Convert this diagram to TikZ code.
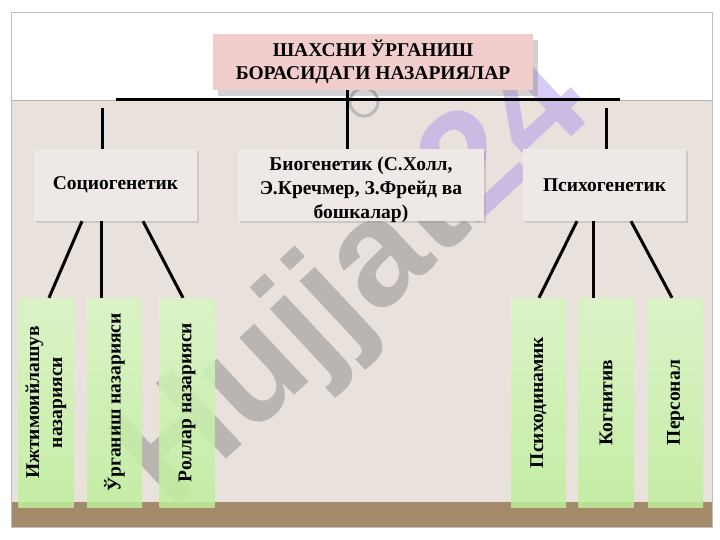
\documentclass[tikz,border=0pt]{standalone}
\usepackage{fontspec}
\setmainfont{Liberation Serif}
\newfontfamily\wmfont{Liberation Sans}
\usetikzlibrary{shadows}
\definecolor{slidebeige}{HTML}{E8E1DC}
\definecolor{slidebrown}{HTML}{A38A6A}
\definecolor{titlepink}{HTML}{F1CDCC}
\definecolor{boxgray}{HTML}{EEE9E6}
\definecolor{leafgreen}{HTML}{BFF09C}
\definecolor{wmpurple}{HTML}{A98CEB}

\begin{document}
\begin{tikzpicture}[x=1pt, y=-1pt,
  titlebox/.style = {fill=titlepink, minimum width=320, minimum height=56, align=center,
    inner sep=0pt, font=\bfseries\fontsize{19.5}{23}\selectfont,
    drop shadow={opacity=0.35, shadow xshift=5pt, shadow yshift=-6pt}},
  groupbox/.style = {fill=boxgray, minimum height=72, align=center, inner sep=0pt,
    font=\bfseries\fontsize{19.5}{24}\selectfont,
    drop shadow={opacity=0.25, shadow xshift=2pt, shadow yshift=-2pt}},
  grouptext/.style = {align=center, inner sep=0pt, font=\bfseries\fontsize{19.5}{24}\selectfont},
  leafbox/.style = {rotate=90, top color=leafgreen!60!white, bottom color=leafgreen,
    shading angle=0, fill opacity=0.85, text opacity=1, minimum width=209, minimum height=55,
    inner sep=0pt, align=center, font=\bfseries\fontsize{19.5}{23}\selectfont},
  link/.style = {line width=3pt, black}]
\useasboundingbox (0,0) rectangle (720,540);
\fill [white] (0,0) rectangle (720,540);
% slide background
\fill [slidebeige] (11,100) rectangle (712,502);
\fill [slidebrown] (11,502) rectangle (712,527);
\draw [gray!50] (11,12) rectangle (712,527);
\draw [gray!60] (11,100) -- (712,100);
\draw [gray!55, line width=3pt] (364,102) circle (14);

% watermark
\node [rotate=43, text opacity=0.45, font=\wmfont\bfseries\fontsize{150}{150}\selectfont] (wm) at (357,284)
  {\textcolor{black!50}{Hujjat}\textcolor{wmpurple}{24}};

% nodes
\node [titlebox] (title) at (373,62) {ШАХСНИ ЎРГАНИШ\\БОРАСИДАГИ НАЗАРИЯЛАР};
\node [groupbox, minimum width=163] (socio) at (115.5,185) {Социогенетик};
\node [groupbox, minimum width=246] (bio) at (361,185) {};
\node [grouptext] (biotext) at (361,190) {Биогенетик (С.Холл,\\Э.Кречмер, З.Фрейд ва\\бошкалар)};
\node [groupbox, minimum width=163] (psycho) at (604.5,185) {Психогенетик};

\node [leafbox] (a1) at (46,402.5) {Ижтимоийлашув\\назарияси};
\node [leafbox] (a2) at (114.5,402.5) {Ўрганиш назарияси};
\node [leafbox] (a3) at (187,402.5) {Роллар назарияси};
\node [leafbox] (b1) at (538.5,402.5) {Психодинамик};
\node [leafbox] (b2) at (606,402.5) {Когнитив};
\node [leafbox] (b3) at (675.5,402.5) {Персонал};

% connectors
\coordinate (hl) at (116,100);
\coordinate (hr) at (620,100);
\coordinate (vl) at (102,108);
\coordinate (vr) at (606,108);
\draw [link] (hl) -- (hr);
\draw [link] ([xshift=-26pt]title.south) -- ([xshift=-14pt]bio.north);
\draw [link] (vl) -- ([xshift=-13.5pt]socio.north);
\draw [link] (vr) -- ([xshift=1.5pt]psycho.north);

\draw [link] ([xshift=-33.5pt]socio.south) -- ([xshift=3pt]a1.east);
\draw [link] ([xshift=-14.5pt]socio.south) -- ([xshift=-13.5pt]a2.east);
\draw [link] ([xshift=27.5pt]socio.south) -- ([xshift=-4pt]a3.east);
\draw [link] ([xshift=-27.5pt]psycho.south) -- ([xshift=0.5pt]b1.east);
\draw [link] ([xshift=-11.5pt]psycho.south) -- ([xshift=-13pt]b2.east);
\draw [link] ([xshift=26.5pt]psycho.south) -- ([xshift=-3.5pt]b3.east);
\end{tikzpicture}
\end{document}
